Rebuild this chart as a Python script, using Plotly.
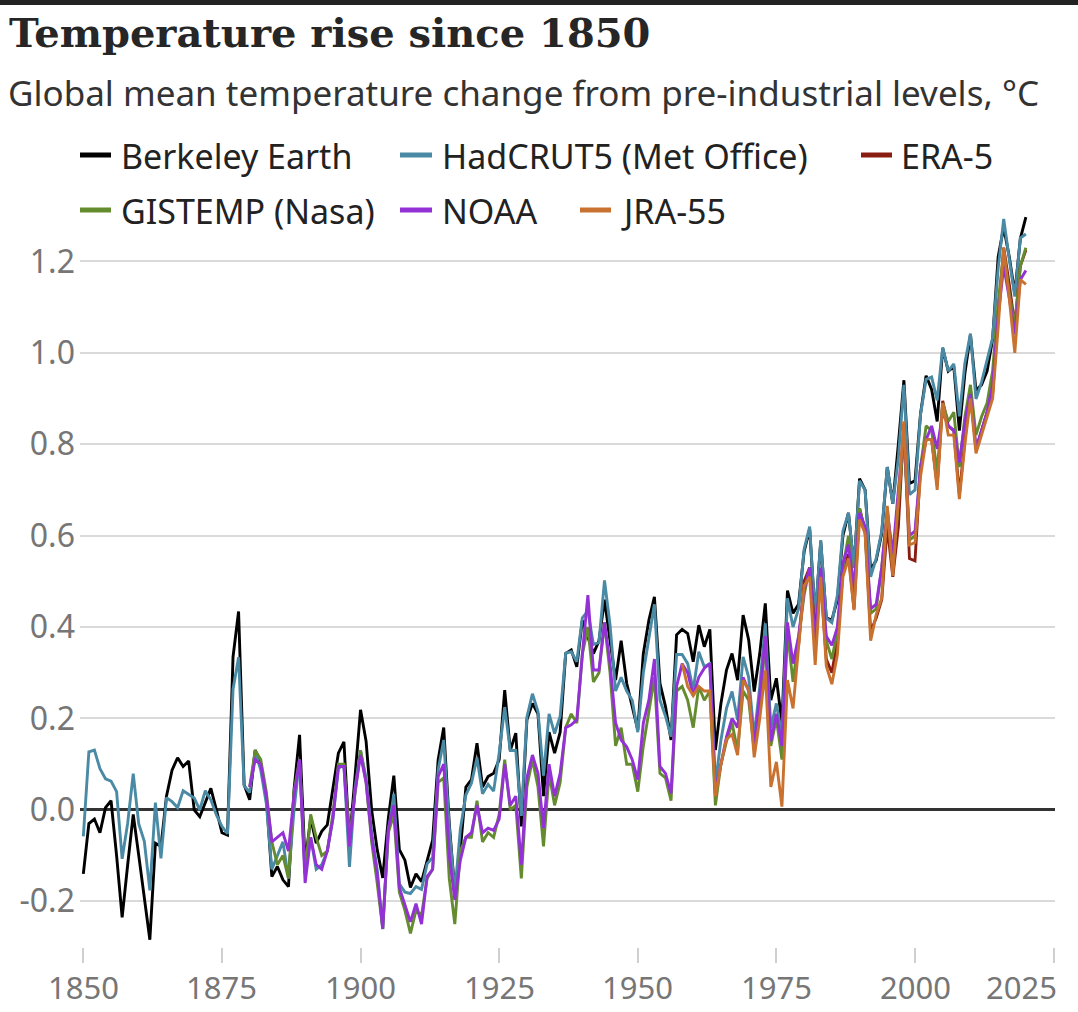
import plotly.graph_objects as go

# ---------------- data (°C above pre-industrial) ----------------
berkeley_start = 1850
berkeley = [
    -0.14, -0.03, -0.02, -0.05, 0.005, 0.02, -0.10, -0.235, -0.12, -0.01,
    -0.10, -0.19, -0.284, -0.073, -0.08, 0.03, 0.087, 0.114, 0.095, 0.107,
    0.0, -0.015, 0.015, 0.047, 0.0, -0.05, -0.055, 0.335, 0.434, 0.055,
    0.022, 0.131, 0.10, 0.03, -0.146, -0.124, -0.153, -0.168, 0.044, 0.164,
    -0.117, -0.018, -0.073, -0.047, -0.033, 0.05, 0.124, 0.149, -0.073, 0.073,
    0.219, 0.15, 0.0, -0.087, -0.149, -0.02, 0.075, -0.087, -0.11, -0.17,
    -0.14, -0.157, -0.11, -0.066, 0.11, 0.18, -0.03, -0.18, -0.087, 0.05,
    0.066, 0.146, 0.05, 0.073, 0.08, 0.11, 0.262, 0.13, 0.168, -0.036,
    0.197, 0.233, 0.21, 0.03, 0.17, 0.124, 0.17, 0.342, 0.35, 0.313,
    0.415, 0.379, 0.342, 0.37, 0.46, 0.37, 0.284, 0.37, 0.277, 0.226,
    0.175, 0.342, 0.415, 0.466, 0.277, 0.226, 0.153, 0.383, 0.395, 0.386,
    0.324, 0.404, 0.357, 0.395, 0.131, 0.233, 0.306, 0.342, 0.284, 0.426,
    0.372, 0.259, 0.342, 0.452, 0.24, 0.288, 0.19, 0.48, 0.43, 0.45,
    0.565, 0.615, 0.42, 0.587, 0.42, 0.415, 0.46, 0.60, 0.65, 0.53,
    0.725, 0.70, 0.525, 0.546, 0.605, 0.75, 0.67, 0.80, 0.94, 0.714,
    0.72, 0.867, 0.95, 0.92, 0.85, 1.01, 0.96, 0.97, 0.83, 0.955,
    1.04, 0.918, 0.93, 0.96, 1.03, 1.21, 1.275, 1.21, 1.13, 1.25,
    1.297,
]

hadcrut_start = 1850
hadcrut = [
    -0.058, 0.127, 0.131, 0.090, 0.068, 0.063, 0.040, -0.107, -0.029, 0.079,
    -0.031, -0.069, -0.176, 0.016, -0.106, 0.027, 0.018, 0.005, 0.042, 0.033,
    0.026, 0.000, 0.042, 0.022, -0.011, -0.036, -0.052, 0.264, 0.334, 0.053,
    0.038, 0.127, 0.087, 0.014, -0.13, -0.10, -0.07, -0.15, 0.0, 0.11,
    -0.14, -0.06, -0.13, -0.12, -0.09, -0.02, 0.09, 0.10, -0.125, 0.048,
    0.130, 0.07, -0.049, -0.13, -0.261, -0.05, 0.035, -0.162, -0.180, -0.183,
    -0.168, -0.174, -0.118, -0.104, 0.088, 0.153, -0.038, -0.181, -0.042, 0.033,
    0.058, 0.114, 0.035, 0.056, 0.041, 0.124, 0.225, 0.130, 0.130, -0.013,
    0.203, 0.254, 0.215, 0.075, 0.210, 0.167, 0.205, 0.343, 0.346, 0.324,
    0.42, 0.435, 0.362, 0.366, 0.502, 0.404, 0.26, 0.29, 0.26, 0.24,
    0.17, 0.30, 0.375, 0.45, 0.24, 0.205, 0.16, 0.34, 0.34, 0.32,
    0.262, 0.346, 0.313, 0.32, 0.058, 0.153, 0.222, 0.259, 0.197, 0.335,
    0.29, 0.16, 0.27, 0.408, 0.18, 0.233, 0.16, 0.463, 0.40, 0.44,
    0.57, 0.62, 0.42, 0.59, 0.42, 0.41, 0.47, 0.61, 0.65, 0.53,
    0.72, 0.70, 0.51, 0.55, 0.61, 0.75, 0.67, 0.77, 0.93, 0.69,
    0.70, 0.865, 0.942, 0.947, 0.896, 1.012, 0.960, 0.976, 0.861, 0.978,
    1.042, 0.899, 0.936, 0.984, 1.033, 1.185, 1.293, 1.205, 1.123, 1.251,
    1.26,
]

era5_start = 1979
era5 = [
    0.36, 0.50, 0.53, 0.39, 0.50, 0.33, 0.30, 0.37, 0.52, 0.56,
    0.44, 0.66, 0.61, 0.39, 0.42, 0.46, 0.62, 0.51, 0.62, 0.845,
    0.55, 0.545, 0.75, 0.81, 0.81, 0.71, 0.895, 0.84, 0.83, 0.69,
    0.81, 0.92, 0.79, 0.83, 0.87, 0.91, 1.08, 1.23, 1.15, 1.06,
    1.19, 1.225,
]

gistemp_start = 1880
gistemp = [
    0.05, 0.13, 0.11, 0.04, -0.07, -0.12, -0.10, -0.15, 0.04, 0.11,
    -0.14, -0.01, -0.06, -0.10, -0.09, -0.01, 0.10, 0.10, -0.06, 0.04,
    0.13, 0.06, -0.07, -0.16, -0.26, -0.05, -0.01, -0.18, -0.22, -0.27,
    -0.22, -0.23, -0.15, -0.13, 0.06, 0.07, -0.15, -0.25, -0.09, -0.06,
    -0.06, 0.02, -0.07, -0.05, -0.06, -0.01, 0.11, 0.00, 0.01, -0.15,
    0.05, 0.11, 0.05, -0.08, 0.08, 0.01, 0.06, 0.18, 0.21, 0.19,
    0.34, 0.40, 0.28, 0.30, 0.41, 0.30, 0.14, 0.18, 0.10, 0.10,
    0.04, 0.14, 0.22, 0.29, 0.08, 0.07, 0.02, 0.26, 0.27, 0.24,
    0.18, 0.27, 0.24, 0.26, 0.01, 0.10, 0.15, 0.19, 0.13, 0.26,
    0.24, 0.13, 0.22, 0.37, 0.14, 0.20, 0.11, 0.39, 0.28, 0.37,
    0.47, 0.53, 0.35, 0.52, 0.37, 0.33, 0.39, 0.53, 0.60, 0.48,
    0.66, 0.61, 0.43, 0.44, 0.53, 0.66, 0.54, 0.67, 0.82, 0.59,
    0.60, 0.75, 0.84, 0.83, 0.74, 0.89, 0.85, 0.87, 0.75, 0.86,
    0.93, 0.82, 0.86, 0.89, 0.96, 1.11, 1.22, 1.13, 1.06, 1.19,
    1.23,
]

noaa_start = 1880
noaa = [
    0.05, 0.11, 0.10, 0.03, -0.07, -0.06, -0.05, -0.09, 0.03, 0.11,
    -0.16, -0.06, -0.12, -0.13, -0.09, -0.02, 0.095, 0.095, -0.08, 0.04,
    0.12, 0.06, -0.06, -0.14, -0.26, -0.04, 0.01, -0.17, -0.21, -0.245,
    -0.205, -0.25, -0.146, -0.13, 0.073, 0.10, -0.10, -0.197, -0.11, -0.06,
    -0.05, 0.01, -0.05, -0.04, -0.045, -0.02, 0.10, 0.01, 0.03, -0.12,
    0.07, 0.12, 0.08, -0.04, 0.10, 0.03, 0.08, 0.18, 0.186, 0.197,
    0.34, 0.47, 0.306, 0.306, 0.41, 0.32, 0.19, 0.153, 0.138, 0.11,
    0.066, 0.19, 0.24, 0.33, 0.095, 0.08, 0.036, 0.27, 0.32, 0.30,
    0.25, 0.29, 0.31, 0.32, 0.04, 0.10, 0.16, 0.20, 0.18, 0.29,
    0.26, 0.14, 0.25, 0.38, 0.15, 0.21, 0.14, 0.41, 0.32, 0.38,
    0.48, 0.53, 0.37, 0.53, 0.38, 0.36, 0.40, 0.54, 0.58, 0.48,
    0.65, 0.62, 0.44, 0.45, 0.53, 0.65, 0.56, 0.70, 0.83, 0.60,
    0.61, 0.75, 0.81, 0.84, 0.79, 0.87, 0.84, 0.83, 0.76, 0.85,
    0.91, 0.79, 0.83, 0.87, 0.93, 1.08, 1.19, 1.12, 1.04, 1.16,
    1.18,
]

jra55_start = 1958
jra55 = [
    0.32, 0.27, 0.25, 0.27, 0.26, 0.26, 0.03, 0.10, 0.155, 0.165,
    0.12, 0.284, 0.262, 0.115, 0.20, 0.305, 0.05, 0.105, 0.007, 0.284,
    0.222, 0.36, 0.49, 0.51, 0.317, 0.51, 0.315, 0.275, 0.34, 0.51,
    0.55, 0.437, 0.635, 0.605, 0.37, 0.427, 0.463, 0.665, 0.512, 0.68,
    0.85, 0.58, 0.585, 0.73, 0.81, 0.81, 0.70, 0.89, 0.82, 0.82,
    0.68, 0.80, 0.90, 0.78, 0.82, 0.86, 0.90, 1.056, 1.23, 1.12,
    1.00, 1.16, 1.15,
]

series_names = ["Berkeley Earth", "HadCRUT5 (Met Office)", "ERA-5",
                "GISTEMP (Nasa)", "NOAA", "JRA-55"]
series_values = [berkeley, hadcrut, era5, gistemp, noaa, jra55]
series_starts = [berkeley_start, hadcrut_start, era5_start,
                 gistemp_start, noaa_start, jra55_start]
series_colors = ["#000000", "#4a8aa5", "#8a1d12", "#648c2f", "#9330d6", "#c9722f"]

x_ticks = [1850, 1875, 1900, 1925, 1950, 1975, 2000, 2025]
y_ticks = [-0.2, 0.0, 0.2, 0.4, 0.6, 0.8, 1.0, 1.2]
y_ticktext = ["-0.2", "0.0", "0.2", "0.4", "0.6", "0.8", "1.0", "1.2"]

# every series must end in 2020
for v, s in zip(series_values, series_starts):
    assert s + len(v) - 1 == 2020, (s, len(v))

# ---------------- layout geometry (pixels) ----------------
W, H = 1078, 1012
L, R, T, B = 80, 23, 202, 65
PW, PH = W - L - R, H - T - B


def px2x(px):
    return (px - L) / PW


def py2y(py):
    return (H - B - py) / PH


SANS = "Noto Sans"
GREY = "#767676"

fig = go.Figure()
for name, vals, start, col in zip(series_names, series_values, series_starts, series_colors):
    fig.add_trace(go.Scatter(
        x=list(range(start, start + len(vals))), y=vals, mode="lines",
        name=name, line=dict(color=col, width=2.9), showlegend=False,
        hoverinfo="x+y+name",
    ))

fig.update_layout(
    width=W, height=H,
    margin=dict(l=L, r=R, t=T, b=B, autoexpand=False),
    paper_bgcolor="white", plot_bgcolor="white",
    showlegend=False,
    xaxis=dict(range=[1849.4, 2025.25], tickvals=x_ticks, showticklabels=False,
               ticks="outside", ticklen=15, tickwidth=1.5, tickcolor="#cfcfcf",
               showgrid=False, zeroline=False, showline=False, fixedrange=True,
               automargin=False),
    yaxis=dict(range=[-0.3, 1.33], tickvals=y_ticks, ticktext=y_ticktext,
               showgrid=True, gridcolor="#dadada", gridwidth=1.5,
               zeroline=True, zerolinecolor="#333333", zerolinewidth=3,
               ticks="", showline=False, ticklabelstandoff=4, automargin=False,
               tickfont=dict(family=SANS, size=32, color=GREY), fixedrange=True),
)

annotations = []
# x tick labels
for yr in x_ticks:
    last = yr == x_ticks[-1]
    annotations.append(dict(
        x=yr, xref="x", y=py2y(987), yref="paper", text=str(yr), showarrow=False,
        xanchor="right" if last else "center", yanchor="middle", xshift=5 if last else 0,
        font=dict(family=SANS, size=31, color=GREY)))

# title & subtitle
annotations.append(dict(
    x=px2x(7), xref="paper", y=py2y(32), yref="paper", xanchor="left", yanchor="middle",
    text="<b>Temperature rise since 1850</b>", showarrow=False,
    font=dict(family="DejaVu Serif", size=40, color="#262626")))
annotations.append(dict(
    x=px2x(6), xref="paper", y=py2y(92), yref="paper", xanchor="left", yanchor="middle",
    text="Global mean temperature change from pre-industrial levels, °C", showarrow=False,
    font=dict(family=SANS, size=35, color="#333333")))

# custom legend (two rows, as in the original)
legend_pos = [  # (line x0, line x1, text x, y)
    (80, 111, 119, 155), (400, 432, 440, 155), (861, 892, 899, 155),
    (80, 111, 119, 210), (400, 432, 440, 210), (580, 611, 619, 210),
]
shapes = []
for (x0, x1, tx, y), name, col in zip(legend_pos, series_names, series_colors):
    shapes.append(dict(type="line", xref="paper", yref="paper",
                       x0=px2x(x0), x1=px2x(x1), y0=py2y(y), y1=py2y(y),
                       line=dict(color=col, width=5)))
    annotations.append(dict(x=px2x(tx), xref="paper", y=py2y(y + 1), yref="paper",
                            xanchor="left", yanchor="middle", text=name, showarrow=False,
                            font=dict(family=SANS, size=34, color="#222222")))

# dark bar at the very top
shapes.append(dict(type="rect", xref="paper", yref="paper",
                   x0=px2x(0), x1=px2x(W), y0=py2y(5), y1=py2y(0),
                   fillcolor="#222222", line=dict(width=0), layer="above"))

fig.update_layout(annotations=annotations, shapes=shapes)
fig.write_html("out.html",
               config={"displayModeBar": False},
               post_script="document.body.style.margin='0px';"
                           "document.body.style.overflow='hidden';")
